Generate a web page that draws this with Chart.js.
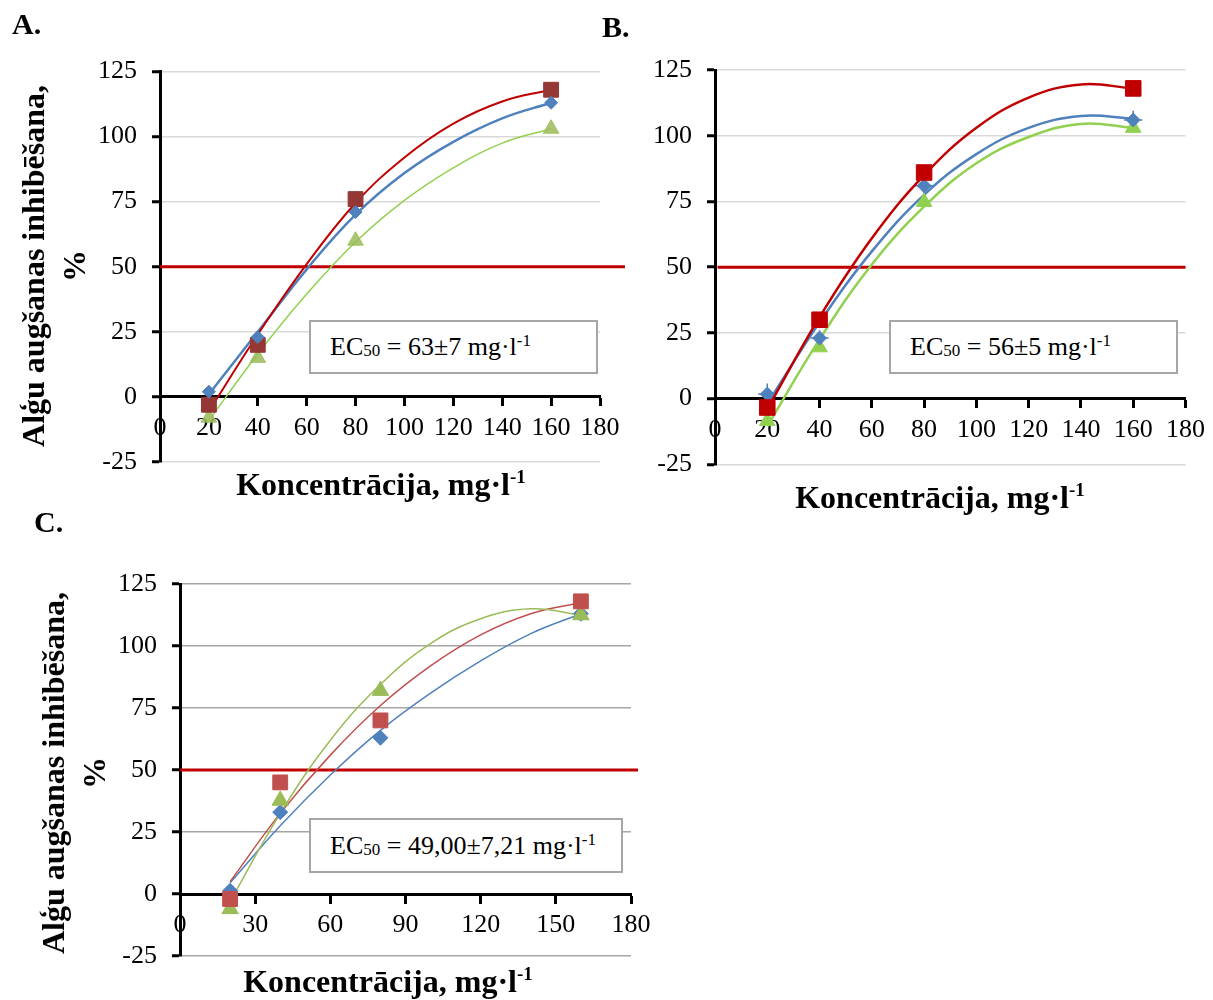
<!DOCTYPE html>
<html lang="lv">
<head>
<meta charset="utf-8">
<script src="https://cdn.jsdelivr.net/npm/chart.js@4.4.1/dist/chart.umd.min.js"></script>
<style>
  html, body { margin: 0; padding: 0; background: #fff; }
  #page { position: relative; width: 1213px; height: 1000px; overflow: hidden;
    font-family: "Liberation Serif", "Times New Roman", serif; color: #000; }
  canvas { position: absolute; }
  .letter { position: absolute; font-weight: bold; font-size: 30px; line-height: 30px; }
  .ytitle { position: absolute; font-weight: bold; font-size: 32px; line-height: 41px;
    text-align: center; white-space: nowrap; transform: translate(-50%, -50%) rotate(-90deg); }
  .xtitle { position: absolute; width: 600px; font-weight: bold; font-size: 32px;
    line-height: 32px; text-align: center; white-space: nowrap; }
  .xtitle .sup { font-size: 19px; position: relative; top: -12px; }
  .ecbox { position: absolute; box-sizing: border-box; border: 2px solid #a6a6a6;
    background: #fff; font-size: 26px; padding-left: 19px; white-space: nowrap; }
  .ecbox .sub { font-size: 17px; position: relative; top: 1px; }
  .ecbox .sup { font-size: 17px; position: relative; top: -9px; }
</style>
</head>
<body>
<div id="page">
  <canvas id="chartA" width="650" height="500" style="left:0;top:0"></canvas>
  <canvas id="chartB" width="573" height="520" style="left:640px;top:0"></canvas>
  <canvas id="chartC" width="660" height="500" style="left:0;top:500px"></canvas>

  <div class="letter" style="left:12px;top:9px">A.</div>
  <div class="letter" style="left:602px;top:12px">B.</div>
  <div class="letter" style="left:34px;top:507px">C.</div>

  <div class="ytitle" style="left:54px;top:266px">Alģu augšanas inhibēšana,<br>%</div>
  <div class="ytitle" style="left:74px;top:773px">Alģu augšanas inhibēšana,<br>%</div>

  <div class="xtitle" style="left:81px;top:468px">Koncentrācija, mg·l<span class="sup">-1</span></div>
  <div class="xtitle" style="left:640px;top:481px">Koncentrācija, mg·l<span class="sup">-1</span></div>
  <div class="xtitle" style="left:88px;top:965px">Koncentrācija, mg·l<span class="sup">-1</span></div>

  <div class="ecbox" style="left:309px;top:320px;width:289px;height:54px;line-height:50px">EC<span class="sub">50</span> = 63±7 mg·l<span class="sup">-1</span></div>
  <div class="ecbox" style="left:889px;top:320px;width:289px;height:54px;line-height:50px">EC<span class="sub">50</span> = 56±5 mg·l<span class="sup">-1</span></div>
  <div class="ecbox" style="left:309px;top:818px;width:314px;height:55px;line-height:51px">EC<span class="sub">50</span> = 49,00±7,21 mg·l<span class="sup">-1</span></div>
</div>

<script>
// koncentrācijas (mg/l)
const conc = [20, 40, 80, 160];
// x vietas, kurās nolasītas trenda līnijas
const trendX = [20, 40, 60, 80, 100, 120, 140, 160];
const ec50Level = 50;

// A.
const aBlue = [2, 23, 71, 113];
const aRed = [-3, 20, 76, 118];
const aGreen = [-8, 15, 60, 103];
const aBlueTrend = [1, 25, 49, 70, 86, 98, 107, 113];
const aRedTrend = [-5.5, 24, 51, 74.5, 92, 105, 113.5, 118];
const aGreenTrend = [-9, 16.5, 39.5, 59.5, 75.5, 88, 97.5, 103];

// B.
const bBlue = [1.7, 23, 81, 106];
const bRed = [-3.4, 30, 86, 118];
const bGreen = [-8.5, 19.5, 74.8, 103];
const bBlueTrend = [-2, 29, 56, 77.5, 93, 103, 107.5, 106.5];
const bRedTrend = [-4, 31, 61, 85, 103, 114.5, 119.5, 118];
const bGreenTrend = [-10.5, 22.5, 51, 73, 89.5, 99.5, 104.5, 103];
const bBlueErrX = [3.5, 3.5, 3.5, 3.5];
const bBlueErrY = [4, 3, 3, 3.5];
const bRedErrX = [3, 3, 3, 3];

// C.
const cBlue = [1.3, 33, 63, 113];
const cRed = [-2, 45, 70, 118];
const cGreen = [-6, 37.7, 82, 112.5];
const cBlueTrend = [4.5, 27.5, 48, 66, 81, 94, 105, 113];
const cRedTrend = [5, 32.5, 56, 76, 92, 104.5, 113, 117.5];
const cGreenTrend = [-3, 32.5, 62, 84.5, 101, 111, 115, 112.5];

Chart.defaults.font.family = "'Liberation Serif', 'Times New Roman', serif";
Chart.defaults.font.size = 26;
Chart.defaults.color = "#000";
Chart.defaults.animation = false;

const pts = (xs, ys) => xs.map((x, i) => ({ x, y: ys[i] }));

function markerSet(ys, style, radius, color) {
  return {
    data: pts(conc, ys),
    showLine: false,
    pointStyle: style,
    pointRadius: radius,
    pointHoverRadius: radius,
    pointBackgroundColor: color,
    pointBorderColor: color,
    pointBorderWidth: 1,
    order: 0,
  };
}

function trendSet(ys, color, width) {
  return {
    data: pts(trendX, ys),
    showLine: true,
    borderColor: color,
    borderWidth: width,
    pointRadius: 0,
    tension: 0.4,
    fill: false,
    order: 1,
  };
}

function halfSet(x0, x1) {
  return {
    data: [{ x: x0, y: ec50Level }, { x: x1, y: ec50Level }],
    showLine: true,
    borderColor: "#c00000",
    borderWidth: 3,
    pointRadius: 0,
    clip: false,
    order: 2,
  };
}

// kļūdu joslas (tikai B.)
const errorBars = {
  id: "errorBars",
  beforeDatasetsDraw(chart, args, opts) {
    if (!opts || !opts.sets) return;
    const { ctx } = chart;
    const x = chart.scales.x;
    const y = chart.scales.y;
    ctx.save();
    for (const set of opts.sets) {
      ctx.strokeStyle = set.color;
      ctx.lineWidth = set.width;
      set.ys.forEach((v, i) => {
        const cx = x.getPixelForValue(conc[i]);
        const cy = y.getPixelForValue(v);
        ctx.beginPath();
        if (set.ex) {
          ctx.moveTo(x.getPixelForValue(conc[i] - set.ex[i]), cy);
          ctx.lineTo(x.getPixelForValue(conc[i] + set.ex[i]), cy);
        }
        if (set.ey) {
          ctx.moveTo(cx, y.getPixelForValue(v - set.ey[i]));
          ctx.lineTo(cx, y.getPixelForValue(v + set.ey[i]));
        }
        ctx.stroke();
      });
    }
    ctx.restore();
  },
};

function scalesFor(xStep, gridColor) {
  return {
    x: {
      type: "linear",
      min: 0,
      max: 180,
      position: { y: 0 },
      afterFit: (s) => { s.height = 1; },
      ticks: { stepSize: xStep, padding: 8, autoSkip: false, maxRotation: 0 },
      grid: { drawOnChartArea: false, tickLength: 8, tickColor: "#000", tickWidth: 3 },
      border: { color: "#000", width: 3 },
    },
    y: {
      type: "linear",
      min: -25,
      max: 125,
      afterFit: (s) => { s.width = 60; },
      ticks: { stepSize: 25, padding: 15 },
      grid: {
        color: (c) => (c.tick && c.tick.value === 0 ? "rgba(0,0,0,0)" : gridColor),
        lineWidth: 1.5,
        tickLength: 8,
        tickColor: "#000",
        tickWidth: 3,
      },
      border: { color: "#000", width: 3 },
    },
  };
}

function makePanel(id, datasets, padding, xStep, gridColor, errSets) {
  return new Chart(document.getElementById(id), {
    type: "line",
    data: { datasets },
    options: {
      responsive: false,
      devicePixelRatio: 1,
      events: [],
      layout: { padding },
      plugins: {
        legend: { display: false },
        tooltip: { enabled: false },
        errorBars: { sets: errSets || null },
      },
      scales: scalesFor(xStep, gridColor),
    },
    plugins: [errorBars],
  });
}

makePanel("chartA", [
  markerSet(aBlue, "rectRot", 6.5, "#4f81bd"),
  markerSet(aRed, "rect", 10.5, "#953735"),
  markerSet(aGreen, "triangle", 9, "rgba(155,187,89,0.85)"),
  trendSet(aRedTrend, "#c00000", 2),
  trendSet(aBlueTrend, "#4f81bd", 2.5),
  trendSet(aGreenTrend, "#92d050", 1.5),
  halfSet(0, 190.2),
], { left: 100, top: 71.5, right: 50, bottom: 38 }, 20, "#d9d9d9");

makePanel("chartB", [
  markerSet(bRed, "rect", 11, "#c00000"),
  markerSet(bBlue, "rectRot", 7, "#4f81bd"),
  markerSet(bGreen, "triangle", 9, "#92d050"),
  trendSet(bRedTrend, "#c00000", 2.5),
  trendSet(bBlueTrend, "#4f81bd", 2.5),
  trendSet(bGreenTrend, "#92d050", 2.5),
  halfSet(1, 180),
], { left: 15, top: 70, right: 23.2, bottom: 55.7 }, 20, "#d9d9d9", [
  { ys: bRed, ex: bRedErrX, color: "#e6a3a3", width: 2 },
  { ys: bBlue, ex: bBlueErrX, ey: bBlueErrY, color: "#4f81bd", width: 1.5 },
]);

makePanel("chartC", [
  markerSet(cRed, "rect", 10.5, "#c0504d"),
  markerSet(cGreen, "triangle", 9.5, "#9bbb59"),
  markerSet(cBlue, "rectRot", 7.5, "#4f81bd"),
  trendSet(cGreenTrend, "#9bbb59", 1.5),
  trendSet(cRedTrend, "#c0504d", 1.5),
  trendSet(cBlueTrend, "#4f81bd", 1.5),
  halfSet(0, 182.8),
], { left: 120, top: 84, right: 29, bottom: 44 }, 30, "#a6a6a6");
</script>
</body>
</html>
